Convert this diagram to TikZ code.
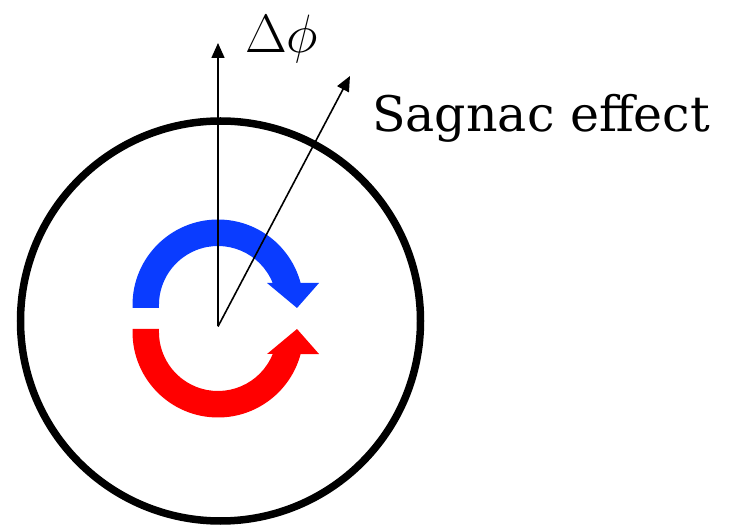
\documentclass[tikz,border=0pt]{standalone}
\usepackage{fix-cm}
\usepackage{fontspec}
\newfontfamily\labelfont{DejaVu Serif}
\usepackage{tikz}
\usetikzlibrary{arrows.meta}
\definecolor{SgBlue}{HTML}{0A3CFF}
\definecolor{SgRed}{HTML}{FF0000}
\tikzset{
  ray/.style={-{Triangle[length=15pt,width=13pt]},line width=1.6pt},
  ring/.style={circle,draw,line width=7.5pt,minimum size=400pt,inner sep=0pt},
  biglabel/.style={font=\labelfont\fontsize{49}{55}\selectfont,inner sep=0pt},
  philabel/.style={font=\fontsize{54}{60}\selectfont,inner sep=0pt},
}
% half-turn arrow of the beam, drawn about its own centre
\newcommand{\turnarrow}[4]{%
  \begin{scope}[shift={(#1,#2)},yscale=#3]
    \fill[#4] (-85.5,-3) -- (-85.5,0) arc[start angle=180,end angle=15,radius=85.5]
      -- (101,22) -- (79,-3) -- (49,22) -- (54.7,22)
      arc[start angle=21.9,end angle=180,radius=59] -- (-59,-3) -- cycle;
  \end{scope}%
}
\begin{document}
\begin{tikzpicture}[x=1pt,y=1pt]
    \useasboundingbox (0,0) rectangle (745,528);
    \node[ring] (loop) at (220.5,207) {};

    \turnarrow{218}{223}{1}{SgBlue}
    \turnarrow{218}{196}{-1}{SgRed}

    \coordinate (origin) at (218,201.5);
    \coordinate (phitip) at (218,485);
    \coordinate (sagtip) at (350,452);
    \draw[ray] (origin)--(phitip);
    \draw[ray] (origin)--(sagtip);

    \node[philabel,anchor=base west] (dphi) at (245,475) {$\Delta\phi$};
    \node[biglabel,anchor=base west] (sagnac) at (372,396) {Sagnac effect};
\end{tikzpicture}
\end{document}
